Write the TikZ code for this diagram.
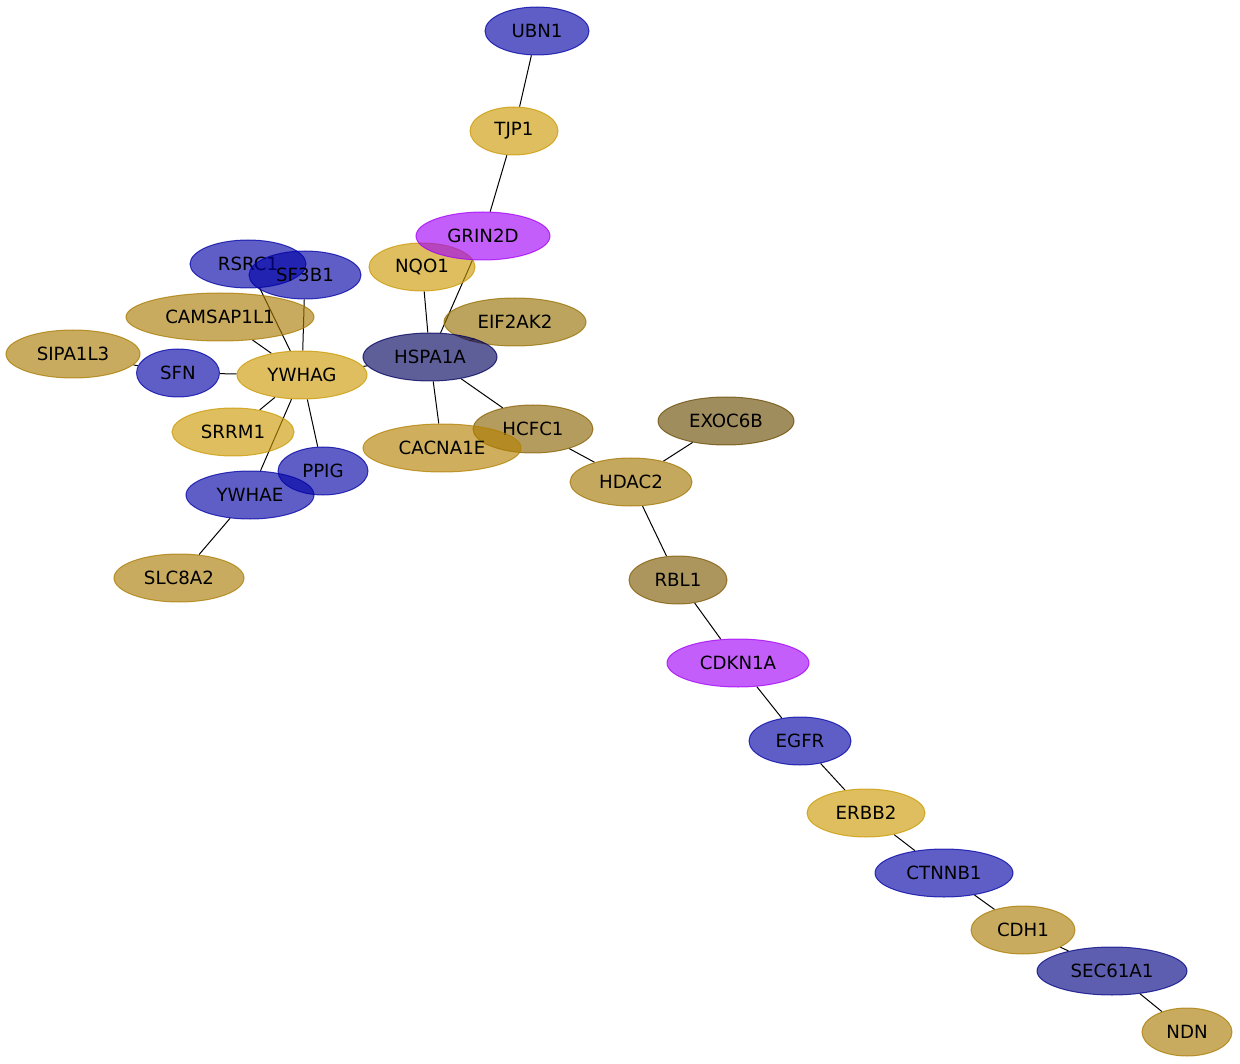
\documentclass[tikz,border=0pt]{standalone}
\usepackage{fontspec}
\setmainfont{DejaVu Sans}
\usetikzlibrary{shapes.geometric}
\pgfdeclarelayer{bg}
\pgfsetlayers{bg,main}
\definecolor{cblue}{RGB}{0,0,165}
\definecolor{cnavy}{RGB}{0,0,93}
\definecolor{csec}{RGB}{0,0,130}
\definecolor{cgold}{RGB}{202,152,0}
\definecolor{ctan}{RGB}{168,122,0}
\definecolor{ccac}{RGB}{179,128,0}
\definecolor{ceif}{RGB}{149,111,0}
\definecolor{chdac}{RGB}{162,117,0}
\definecolor{chcf}{RGB}{136,96,0}
\definecolor{crbl}{RGB}{125,88,0}
\definecolor{cexo}{RGB}{104,74,0}
\definecolor{cmag}{RGB}{160,0,247}
\tikzset{
  gn/.style={ellipse, inner sep=0pt, minimum height=48pt, fill=#1, draw=#1,
    fill opacity=0.63, draw opacity=0.75, text opacity=1, text=black,
    line width=1pt, font=\fontsize{18.2}{22}\selectfont},
  ed/.style={draw=black, line width=1pt}
}
\begin{document}
\begin{tikzpicture}[x=1pt,y=-1pt]
\useasboundingbox (0,0) rectangle (1240,1064);
\node[gn=cblue, minimum width=104pt] (UBN1) at (537,31) {UBN1};
\node[gn=cgold, minimum width=88pt] (TJP1) at (514,131) {TJP1};
\node[gn=cgold, minimum width=106pt] (NQO1) at (422,267) {NQO1};
\node[gn=cmag, minimum width=134pt] (GRIN2D) at (483,236) {GRIN2D};
\node[gn=cblue, minimum width=116pt] (RSRC1) at (248,264) {RSRC1};
\node[gn=cblue, minimum width=112pt] (SF3B1) at (305,275) {SF3B1};
\node[gn=ctan, minimum width=188pt] (CAMSAP1L1) at (220,317) {CAMSAP1L1};
\node[gn=ceif, minimum width=142pt] (EIF2AK2) at (515,322) {EIF2AK2};
\node[gn=cnavy, minimum width=134pt] (HSPA1A) at (430,357) {HSPA1A};
\node[gn=ctan, minimum width=134pt] (SIPA1L3) at (73,354) {SIPA1L3};
\node[gn=cblue, minimum width=83pt] (SFN) at (178,373) {SFN};
\node[gn=cgold, minimum width=130pt] (YWHAG) at (302,375) {YWHAG};
\node[gn=cgold, minimum width=122pt] (SRRM1) at (233,432) {SRRM1};
\node[gn=chcf, minimum width=120pt] (HCFC1) at (533,429) {HCFC1};
\node[gn=ccac, minimum width=158pt] (CACNA1E) at (442,448) {CACNA1E};
\node[gn=cexo, minimum width=136pt] (EXOC6B) at (726,421) {EXOC6B};
\node[gn=chdac, minimum width=122pt] (HDAC2) at (631,482) {HDAC2};
\node[gn=cblue, minimum width=90pt] (PPIG) at (323,471) {PPIG};
\node[gn=cblue, minimum width=128pt] (YWHAE) at (250,495) {YWHAE};
\node[gn=ctan, minimum width=130pt] (SLC8A2) at (179,578) {SLC8A2};
\node[gn=crbl, minimum width=98pt] (RBL1) at (678,580) {RBL1};
\node[gn=cmag, minimum width=142pt] (CDKN1A) at (738,663) {CDKN1A};
\node[gn=cblue, minimum width=102pt] (EGFR) at (800,741) {EGFR};
\node[gn=cgold, minimum width=118pt] (ERBB2) at (866,813) {ERBB2};
\node[gn=cblue, minimum width=138pt] (CTNNB1) at (944,873) {CTNNB1};
\node[gn=ctan, minimum width=104pt] (CDH1) at (1023,930) {CDH1};
\node[gn=csec, minimum width=150pt] (SEC61A1) at (1112,971) {SEC61A1};
\node[gn=ctan, minimum width=90pt] (NDN) at (1187,1032) {NDN};
\begin{pgfonlayer}{bg}
\draw[ed] (UBN1) -- (TJP1);
\draw[ed] (TJP1) -- (GRIN2D);
\draw[ed] (GRIN2D) -- (HSPA1A);
\draw[ed] (NQO1) -- (HSPA1A);
\draw[ed] (HSPA1A) -- (EIF2AK2);
\draw[ed] (HSPA1A) -- (YWHAG);
\draw[ed] (HSPA1A) -- (CACNA1E);
\draw[ed] (HSPA1A) -- (HCFC1);
\draw[ed] (HCFC1) -- (HDAC2);
\draw[ed] (HDAC2) -- (EXOC6B);
\draw[ed] (HDAC2) -- (RBL1);
\draw[ed] (RBL1) -- (CDKN1A);
\draw[ed] (CDKN1A) -- (EGFR);
\draw[ed] (EGFR) -- (ERBB2);
\draw[ed] (ERBB2) -- (CTNNB1);
\draw[ed] (CTNNB1) -- (CDH1);
\draw[ed] (CDH1) -- (SEC61A1);
\draw[ed] (SEC61A1) -- (NDN);
\draw[ed] (YWHAG) -- (RSRC1);
\draw[ed] (YWHAG) -- (SF3B1);
\draw[ed] (YWHAG) -- (CAMSAP1L1);
\draw[ed] (YWHAG) -- (SFN);
\draw[ed] (SFN) -- (SIPA1L3);
\draw[ed] (YWHAG) -- (SRRM1);
\draw[ed] (YWHAG) -- (YWHAE);
\draw[ed] (YWHAG) -- (PPIG);
\draw[ed] (YWHAE) -- (SLC8A2);
\end{pgfonlayer}
\end{tikzpicture}
\end{document}
